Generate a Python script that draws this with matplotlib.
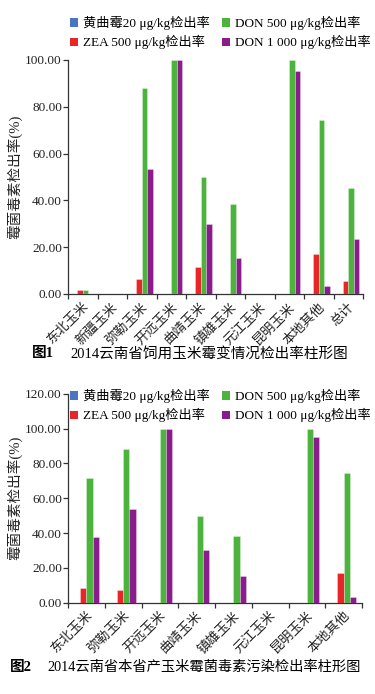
import matplotlib
matplotlib.use("Agg")
import matplotlib.pyplot as plt
import numpy as np
from matplotlib.patches import Patch
from matplotlib.transforms import ScaledTranslation

plt.rcParams['font.family'] = ['Liberation Serif', 'Noto Sans CJK SC']
plt.rcParams['axes.unicode_minus'] = False

series_names = ['黄曲霉20 μg/kg检出率', 'ZEA 500 μg/kg检出率',
                'DON 500 μg/kg检出率', 'DON 1 000 μg/kg检出率']
colors = ['#4A76C0', '#E8262A', '#4CB43C', '#8A1C8C']

# Figure 1
cats1 = ['东北玉米', '新疆玉米', '弥勒玉米', '开远玉米', '曲靖玉米',
         '镇雄玉米', '元江玉米', '昆明玉米', '本地其他', '总计']
afla1 = [0, 0, 0, 0, 0, 0, 0, 0, 0, 0]
zea1 = [1.9, 0, 6.6, 0, 11.4, 0, 0, 0, 17.1, 5.7]
don500_1 = [1.9, 0, 87.9, 100, 50.0, 38.5, 0, 100, 74.3, 45.4]
don1000_1 = [0, 0, 53.3, 100, 29.9, 15.4, 0, 95.2, 3.3, 23.6]

# Figure 2
cats2 = ['东北玉米', '弥勒玉米', '开远玉米', '曲靖玉米',
         '镇雄玉米', '元江玉米', '昆明玉米', '本地其他']
afla2 = [0, 0, 0, 0, 0, 0, 0, 0]
zea2 = [8.3, 7.1, 0, 0, 0, 0, 0, 17.0]
don500_2 = [71.4, 88.2, 100, 50.0, 38.5, 0, 100, 74.3]
don1000_2 = [37.5, 53.6, 100, 30.0, 15.4, 0, 95.2, 3.1]

yticks1 = [0, 20, 40, 60, 80, 100]
yticks2 = [0, 20, 40, 60, 80, 100, 120]

fig = plt.figure(figsize=(3.75, 6.94), dpi=100)

axis_col = '#333333'
tick_fs = 9.5


def draw(ax, cats, data, width, ymax, yticks):
    n = len(cats)
    x = np.arange(n)
    for i, (vals, c) in enumerate(zip(data, colors)):
        off = (i - 1.5) * width
        ax.bar(x + off, vals, width, color=c, edgecolor=(1, 1, 1, 0.5),
               linewidth=0.4, zorder=3)
    ax.set_xlim(-0.5, n - 0.5)
    ax.set_ylim(0, ymax)
    ax.set_yticks(yticks)
    ax.set_yticklabels([f'{v:.2f}' for v in yticks], fontsize=tick_fs)
    ax.set_xticks(np.arange(n + 1) - 0.5)
    ax.set_xticklabels([])
    ax.set_xticks(x, minor=True)
    ax.tick_params(axis='x', which='minor', length=0, pad=8)
    ax.tick_params(axis='x', which='major', length=3.6, width=0.9,
                   color=axis_col, direction='out')
    ax.tick_params(axis='y', length=3.6, width=0.9, color=axis_col,
                   direction='out', pad=0.8, labelcolor='#222222')
    labs = ax.set_xticklabels(cats, minor=True, rotation=45, ha='right',
                              va='center', rotation_mode='anchor',
                              fontsize=9.5, color='#222222')
    off = ScaledTranslation(4/100, 0, fig.dpi_scale_trans)
    for t in labs:
        t.set_transform(t.get_transform() + off)
    for s in ['top', 'right']:
        ax.spines[s].set_visible(False)
    for s in ['left', 'bottom']:
        ax.spines[s].set_color(axis_col)
        ax.spines[s].set_linewidth(0.9)
    ax.set_ylabel('霉菌毒素检出率(%)', fontsize=10.5,
                  color='#222222')


ax1 = fig.add_axes([68/375, 1 - 294/694, 295/375, 234/694])
draw(ax1, cats1, [afla1, zea1, don500_1, don1000_1], 0.19, 100, yticks1)
ax1.yaxis.set_label_coords(-0.155, 0.5)

ax2 = fig.add_axes([68/375, 1 - 602.7/694, 294/375, 209/694])
draw(ax2, cats2, [afla2, zea2, don500_2, don1000_2], 0.17, 120, yticks2)
ax2.yaxis.set_label_coords(-0.155, 0.5)

handles = [Patch(facecolor=c, edgecolor='none') for c in colors]


def leg(ytop):
    fig.legend(handles, series_names, ncol=2, loc='upper left',
               bbox_to_anchor=(70/375, 1 - ytop/694), frameon=False,
               fontsize=9.5, handlelength=0.6, handleheight=0.6,
               handletextpad=0.4, columnspacing=0.9, borderpad=0,
               borderaxespad=0, labelspacing=0.38)


leg(16)
leg(389)

fig.text(32/375, 1 - 354/694, '图1', fontsize=10.5, fontweight='bold',
         va='center', ha='left')
fig.text(70/375, 1 - 354/694, '2014云南省饲用玉米霉变情况检出率柱形图',
         fontsize=10.5, va='center', ha='left')
fig.text(10/375, 1 - 667/694, '图2', fontsize=10.5, fontweight='bold',
         va='center', ha='left')
fig.text(47/375, 1 - 667/694, '2014云南省本省产玉米霉菌毒素污染检出率柱形图',
         fontsize=10.3, va='center', ha='left')

fig.savefig('out.png', dpi=100)
